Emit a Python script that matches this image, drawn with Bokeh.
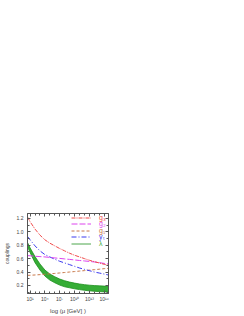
import numpy as np
from bokeh.plotting import figure
from bokeh.models import (Range1d, LogAxis, LinearAxis, FixedTicker, SingleIntervalTicker,
                          CustomJSTickFormatter, Legend, LegendItem)
from bokeh.embed import file_html
from bokeh.resources import INLINE

# ---- data ----
log_mu = [0.48, 1, 2, 3, 4, 5, 6, 7, 8, 9, 10, 11, 12, 13, 14, 15, 16, 16.87]
g3 = [1.22, 1.15, 1.04, 0.95, 0.88, 0.83, 0.79, 0.75, 0.715, 0.68, 0.65, 0.625, 0.60, 0.575, 0.555, 0.535, 0.515, 0.50]
g2 = [0.645, 0.642, 0.635, 0.63, 0.625, 0.618, 0.61, 0.603, 0.595, 0.588, 0.58, 0.572, 0.565, 0.558, 0.55, 0.54, 0.528, 0.522]
g1 = [0.35, 0.352, 0.356, 0.361, 0.367, 0.373, 0.379, 0.386, 0.393, 0.40, 0.407, 0.414, 0.421, 0.428, 0.435, 0.442, 0.45, 0.455]
yt = [0.93, 0.88, 0.79, 0.715, 0.66, 0.625, 0.59, 0.56, 0.535, 0.51, 0.485, 0.46, 0.44, 0.42, 0.40, 0.385, 0.37, 0.355]
lam_hi = [0.84, 0.76, 0.63, 0.52, 0.43, 0.37, 0.33, 0.295, 0.27, 0.25, 0.235, 0.222, 0.212, 0.204, 0.198, 0.194, 0.19, 0.188]
lam_lo = [0.78, 0.69, 0.54, 0.43, 0.34, 0.28, 0.24, 0.205, 0.18, 0.165, 0.15, 0.138, 0.128, 0.12, 0.113, 0.108, 0.104, 0.102]

labels = ["g\u2083", "g\u2082", "g\u2081", "y\u209c", "\u03bb"]
major_exps = [1, 4, 7, 10, 13, 16]
minor_exps = list(range(0, 18))

mu = [10 ** v for v in log_mu]

FONT = "Liberation Sans"
AX = "#555555"

p = figure(width=240, height=316, x_axis_type="log",
           x_range=Range1d(10 ** 0.48, 10 ** 16.87), y_range=Range1d(0.08, 1.272),
           output_backend="svg", toolbar_location=None,
           min_border_left=23, min_border_right=132, min_border_top=213, min_border_bottom=21)
p.grid.visible = False
p.outline_line_color = AX
p.background_fill_color = "white"

sup = CustomJSTickFormatter(code="""
const s = {"0":"\u2070","1":"\u00b9","2":"\u00b2","3":"\u00b3","4":"\u2074","5":"\u2075","6":"\u2076","7":"\u2077","8":"\u2078","9":"\u2079","-":"\u207b"};
const e = Math.round(Math.log10(tick));
return "10" + String(e).split("").map(c => s[c]).join("");
""")
one_dec = CustomJSTickFormatter(code="return tick.toFixed(1)")
blank = CustomJSTickFormatter(code="return ''")

def xticker():
    return FixedTicker(ticks=[10.0 ** e for e in major_exps], minor_ticks=[10.0 ** e for e in minor_exps])

def yticker():
    return SingleIntervalTicker(interval=0.2, num_minor_ticks=2)

def style(ax, lstand=2, astand=2, lsize="6px"):
    ax.axis_line_color = AX
    ax.major_tick_line_color = AX
    ax.minor_tick_line_color = AX
    ax.major_tick_in = 3
    ax.major_tick_out = 0
    ax.minor_tick_in = 2
    ax.minor_tick_out = 0
    ax.major_label_text_font = FONT
    ax.major_label_text_font_size = "5px"
    ax.major_label_text_color = "#444444"
    ax.major_label_standoff = lstand
    ax.axis_label_text_font = FONT
    ax.axis_label_text_font_size = lsize
    ax.axis_label_text_font_style = "normal"
    ax.axis_label_text_color = "#444444"
    ax.axis_label_standoff = astand

xa = p.xaxis[0]
xa.ticker = xticker()
xa.formatter = sup
xa.axis_label = "log (\u03bc [GeV] )"
style(xa, lstand=2, astand=3, lsize="6px")

ya = p.yaxis[0]
ya.ticker = yticker()
ya.formatter = one_dec
ya.axis_label = "couplings"
style(ya, lstand=4, astand=4, lsize="5px")

top = LogAxis(ticker=xticker(), formatter=blank)
style(top)
p.add_layout(top, "above")
right = LinearAxis(ticker=yticker(), formatter=blank)
style(right)
p.add_layout(right, "right")

# ---- glyphs ----
p.varea(x=mu, y1=lam_lo, y2=lam_hi, fill_color="#36ad36")
r_lam = p.line(mu, lam_hi, line_color="#1e8f1e", line_width=0.8)
p.line(mu, lam_lo, line_color="#1e8f1e", line_width=0.8)
r_g1 = p.line(mu, g1, line_color="#c8784a", line_width=1, line_dash="3 2")
r_yt = p.line(mu, yt, line_color="#3a3aee", line_width=1, line_dash="5 2 1 2")
r_g2 = p.line(mu, g2, line_color="#dd44ee", line_width=1, line_dash="6 2")
r_g3 = p.line(mu, g3, line_color="#f04a4a", line_width=1, line_dash="4 1 1 1")

items = [(labels[0], r_g3, "#f04a4a"), (labels[1], r_g2, "#dd44ee"), (labels[2], r_g1, "#c8784a"),
         (labels[3], r_yt, "#3a3aee"), (labels[4], r_lam, "#36ad36")]
for i, (lab, r, col) in enumerate(items):
    leg = Legend(items=[LegendItem(label=lab, renderers=[r])],
                 location=(44, 76 - 6.7 * i - 3.5), glyph_width=20, glyph_height=5,
                 label_standoff=8, padding=0, margin=0, spacing=0,
                 border_line_alpha=0, background_fill_alpha=0,
                 label_text_color=col, label_text_font=FONT, label_text_font_size="7px",
                 label_height=5)
    p.add_layout(leg)

open("out.html", "w").write(file_html(p, INLINE))
